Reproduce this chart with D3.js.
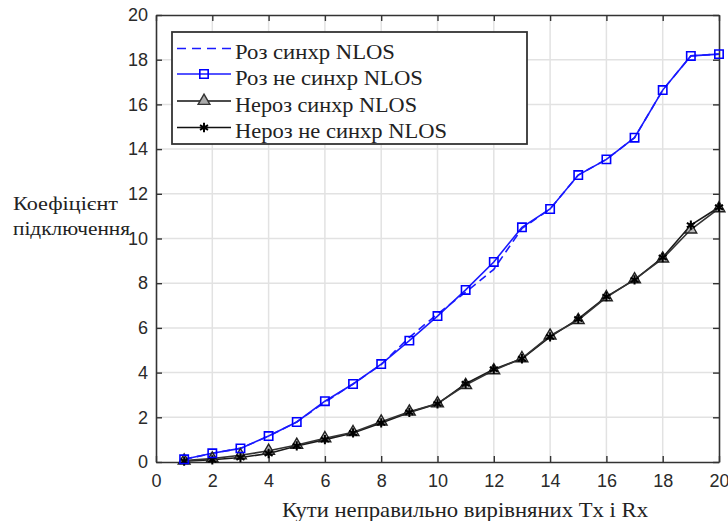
<!DOCTYPE html>
<html>
<head>
<meta charset="utf-8">
<script src="https://cdn.jsdelivr.net/npm/d3@7"></script>
<style>
  body { margin: 0; background: #fff; }
  svg { display: block; }
</style>
</head>
<body>
<div id="chart"></div>
<script>
// data
const angles = [1, 2, 3, 4, 5, 6, 7, 8, 9, 10, 11, 12, 13, 14, 15, 16, 17, 18, 19, 20];
const rozSync = [0.12, 0.39, 0.61, 1.16, 1.79, 2.68, 3.49, 4.36, 5.58, 6.62, 7.6, 8.62, 10.45, 11.32, 12.84, 13.54, 14.51, 16.64, 18.17, 18.25];
const rozNoSync = [0.12, 0.39, 0.61, 1.16, 1.79, 2.72, 3.49, 4.38, 5.43, 6.53, 7.7, 8.95, 10.5, 11.32, 12.84, 13.54, 14.51, 16.64, 18.17, 18.25];
const nerozSync = [0.06, 0.15, 0.3, 0.5, 0.76, 1.06, 1.33, 1.8, 2.25, 2.62, 3.44, 4.1, 4.64, 5.65, 6.35, 7.37, 8.17, 9.1, 10.4, 11.35];
const nerozNoSync = [0.04, 0.1, 0.2, 0.38, 0.72, 1.0, 1.3, 1.75, 2.22, 2.6, 3.5, 4.15, 4.62, 5.6, 6.4, 7.4, 8.15, 9.15, 10.6, 11.4];
const tickValues = [0, 2, 4, 6, 8, 10, 12, 14, 16, 18, 20];
const legendNames = ["Роз синхр NLOS", "Роз не синхр NLOS", "Нероз синхр NLOS", "Нероз не синхр NLOS"];

const width = 728, height = 521;
const margin = { top: 15, right: 9, bottom: 59, left: 156 };

const svg = d3.select("#chart").append("svg")
  .attr("width", width)
  .attr("height", height);

const x = d3.scaleLinear().domain([0, 20]).range([margin.left, width - margin.right]);
const y = d3.scaleLinear().domain([0, 20]).range([height - margin.bottom, margin.top]);

// grid
svg.append("g")
  .selectAll("line.vg")
  .data(tickValues.slice(1, -1))
  .join("line")
  .attr("x1", d => x(d)).attr("x2", d => x(d))
  .attr("y1", y(0)).attr("y2", y(20))
  .attr("stroke", "#e2e2e2").attr("stroke-width", 1.5);
svg.append("g")
  .selectAll("line.hg")
  .data(tickValues.slice(1, -1))
  .join("line")
  .attr("x1", x(0)).attr("x2", x(20))
  .attr("y1", d => y(d)).attr("y2", d => y(d))
  .attr("stroke", "#e2e2e2").attr("stroke-width", 1.5);

// axes, ticks pointing inward on all four sides
const tickFont = "'Liberation Sans Narrow', 'Liberation Sans', Arial, sans-serif";

const bottomAxis = svg.append("g")
  .attr("transform", `translate(0,${y(0)})`)
  .call(d3.axisBottom(x).tickValues(tickValues).tickSizeInner(-6).tickSizeOuter(0).tickPadding(12));
const leftAxis = svg.append("g")
  .attr("transform", `translate(${x(0)},0)`)
  .call(d3.axisLeft(y).tickValues(tickValues).tickSizeInner(-6).tickSizeOuter(0).tickPadding(8));
const topAxis = svg.append("g")
  .attr("transform", `translate(0,${y(20)})`)
  .call(d3.axisTop(x).tickValues(tickValues).tickSizeInner(-6).tickSizeOuter(0).tickFormat(""));
const rightAxis = svg.append("g")
  .attr("transform", `translate(${x(20)},0)`)
  .call(d3.axisRight(y).tickValues(tickValues).tickSizeInner(-6).tickSizeOuter(0).tickFormat(""));

[bottomAxis, leftAxis, topAxis, rightAxis].forEach(g => {
  g.select(".domain").attr("stroke", "#333").attr("stroke-width", 1.6);
  g.selectAll(".tick line").attr("stroke", "#333").attr("stroke-width", 1.4);
  g.selectAll(".tick text")
    .attr("fill", "#2a2a2a")
    .style("font-family", tickFont)
    .style("font-size", "18px");
});

// lines
const line = vals => d3.line()
  .x((d, i) => x(angles[i]))
  .y(d => y(d))(vals);

svg.append("path").attr("d", line(nerozNoSync))
  .attr("fill", "none").attr("stroke", "#1a1a1a").attr("stroke-width", 1.6);
svg.append("path").attr("d", line(nerozSync))
  .attr("fill", "none").attr("stroke", "#333").attr("stroke-width", 1.6);
svg.append("path").attr("d", line(rozSync))
  .attr("fill", "none").attr("stroke", "#1a1aff").attr("stroke-width", 1.6)
  .attr("stroke-dasharray", "8,5");
svg.append("path").attr("d", line(rozNoSync))
  .attr("fill", "none").attr("stroke", "#1a1aff").attr("stroke-width", 1.6);

// markers
const tri = d3.symbol().type(d3.symbolTriangle).size(60);
const star = d3.symbol().type(d3.symbolAsterisk).size(60);
const sq = d3.symbol().type(d3.symbolSquare).size(70);

svg.append("g").selectAll("path")
  .data(nerozSync)
  .join("path")
  .attr("d", tri)
  .attr("transform", (d, i) => `translate(${x(angles[i])},${y(d)})`)
  .attr("fill", "#777").attr("fill-opacity", 0.5)
  .attr("stroke", "#222").attr("stroke-width", 1.4);
svg.append("g").selectAll("path")
  .data(nerozNoSync)
  .join("path")
  .attr("d", star)
  .attr("transform", (d, i) => `translate(${x(angles[i])},${y(d)})`)
  .attr("fill", "none").attr("stroke", "#000").attr("stroke-width", 2);
svg.append("g").selectAll("path")
  .data(rozNoSync)
  .join("path")
  .attr("d", sq)
  .attr("transform", (d, i) => `translate(${x(angles[i])},${y(d)})`)
  .attr("fill", "none").attr("stroke", "#0000ff").attr("stroke-width", 1.6);

// legend
const legend = svg.append("g");
legend.append("rect")
  .attr("x", 172).attr("y", 32).attr("width", 355).attr("height", 112)
  .attr("fill", "#fff").attr("stroke", "#333").attr("stroke-width", 1.8);

const rowY = [48.5, 74, 101, 127.5];
const textW = [160, 188, 182, 212];
const serif = "'Liberation Serif', 'Times New Roman', serif";

legendNames.forEach((name, i) => {
  const g = legend.append("g");
  const blue = i < 2;
  g.append("line")
    .attr("x1", 177).attr("x2", 231)
    .attr("y1", rowY[i]).attr("y2", rowY[i])
    .attr("stroke", blue ? "#1a1aff" : "#111").attr("stroke-width", 1.6)
    .attr("stroke-dasharray", i === 0 ? "9,6" : null);
  if (i === 1) g.append("path").attr("d", sq).attr("transform", `translate(204,${rowY[i]})`)
    .attr("fill", "none").attr("stroke", "#0000ff").attr("stroke-width", 1.6);
  if (i === 2) g.append("path").attr("d", tri).attr("transform", `translate(204,${rowY[i]})`)
    .attr("fill", "#aaa").attr("stroke", "#333").attr("stroke-width", 1.4);
  if (i === 3) g.append("path").attr("d", star).attr("transform", `translate(204,${rowY[i]})`)
    .attr("fill", "none").attr("stroke", "#000").attr("stroke-width", 2);
  g.append("text")
    .attr("x", 235).attr("y", rowY[i] + 10.5)
    .attr("textLength", textW[i]).attr("lengthAdjust", "spacingAndGlyphs")
    .style("font-family", serif).style("font-size", "21px")
    .attr("fill", "#222")
    .text(name);
});

// axis titles
svg.append("text")
  .attr("x", 282).attr("y", 517)
  .attr("textLength", 366).attr("lengthAdjust", "spacingAndGlyphs")
  .style("font-family", serif).style("font-size", "21px").attr("fill", "#222")
  .text("Кути неправильно вирівняних Tx і Rx");

svg.append("text")
  .attr("x", 13).attr("y", 210)
  .attr("textLength", 105).attr("lengthAdjust", "spacingAndGlyphs")
  .style("font-family", serif).style("font-size", "19px").attr("fill", "#222")
  .text("Коефіцієнт");
svg.append("text")
  .attr("x", 13).attr("y", 235)
  .attr("textLength", 117).attr("lengthAdjust", "spacingAndGlyphs")
  .style("font-family", serif).style("font-size", "19px").attr("fill", "#222")
  .text("підключення");
</script>
</body>
</html>
